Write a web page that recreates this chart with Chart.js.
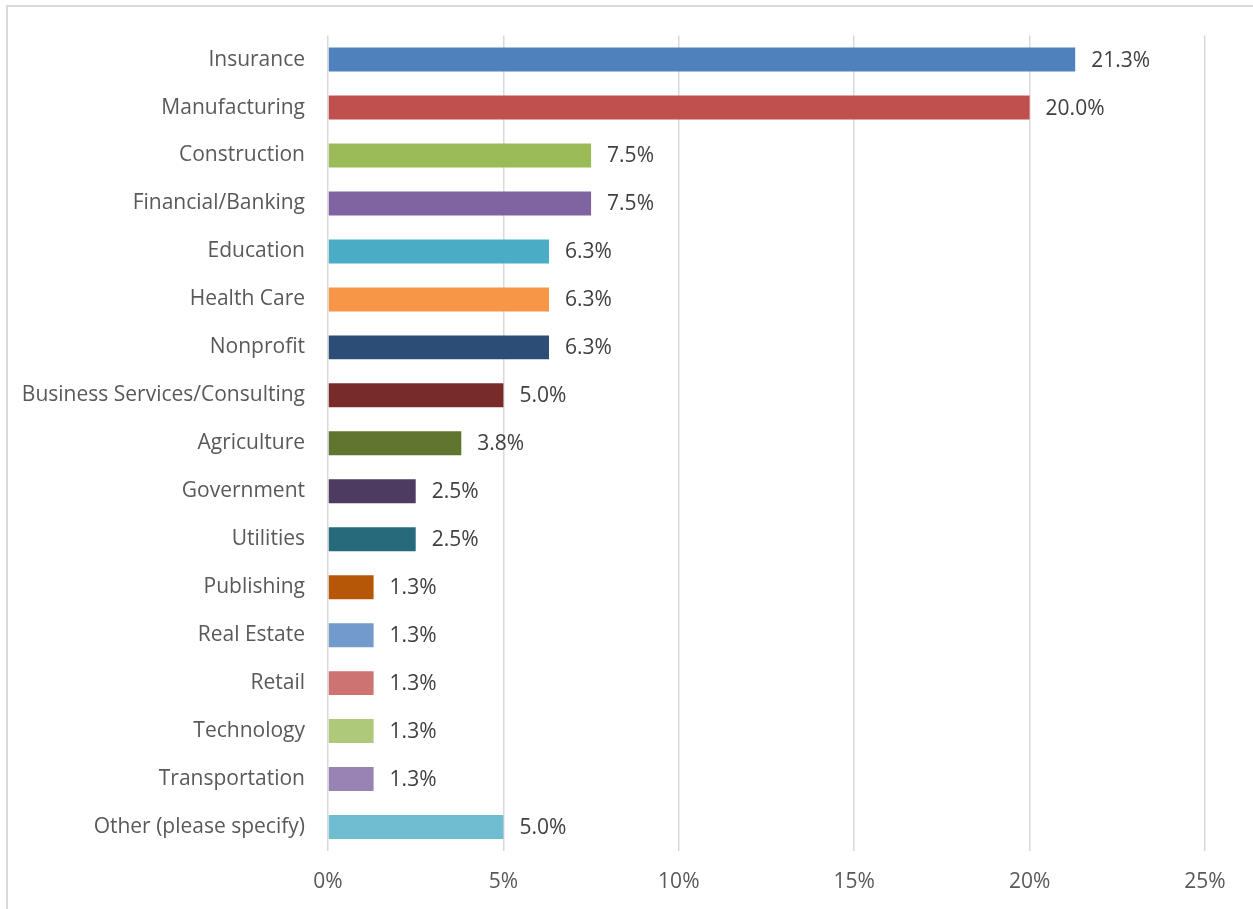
<!DOCTYPE html>
<html>
<head>
<meta charset="utf-8">
<script src="https://cdn.jsdelivr.net/npm/chart.js@4"></script>
<style>
  html, body { margin: 0; padding: 0; background: #fff; }
  #wrap { position: relative; width: 1253px; height: 909px; overflow: hidden; }
  #frame {
    position: absolute; left: 6px; top: 5px; width: 1400px; height: 1000px;
    border-left: 2px solid #d9d9d9; border-top: 2px solid #d9d9d9;
    pointer-events: none;
  }
</style>
</head>
<body>
<div id="wrap">
  <canvas id="industryChart" width="1253" height="909"></canvas>
  <div id="frame"></div>
</div>
<script>
// Branchefordeling (andel af respondenter, %)
const industries = [
  "Insurance", "Manufacturing", "Construction", "Financial/Banking", "Education",
  "Health Care", "Nonprofit", "Business Services/Consulting", "Agriculture",
  "Government", "Utilities", "Publishing", "Real Estate", "Retail",
  "Technology", "Transportation", "Other (please specify)"
];
const shares = [21.3, 20.0, 7.5, 7.5, 6.3, 6.3, 6.3, 5.0, 3.8, 2.5, 2.5, 1.3, 1.3, 1.3, 1.3, 1.3, 5.0];
const barColors = [
  "#4F81BD", "#C0504D", "#9BBB59", "#8064A2", "#4BACC6", "#F79646", "#2C4D75",
  "#772C2A", "#5F7530", "#4D3B62", "#276A7C", "#B65708", "#729ACA", "#CD7371",
  "#AFC97A", "#9983B5", "#6FBDD1"
];
const xTicks = [0, 5, 10, 15, 20, 25];

const FONT = "'Open Sans', sans-serif";

// Tekst ved enden af hver bjælke
const valueLabels = {
  id: "valueLabels",
  afterDatasetsDraw(chart) {
    const ctx = chart.ctx;
    const meta = chart.getDatasetMeta(0);
    ctx.save();
    ctx.font = "21px " + FONT;
    ctx.fillStyle = "#404040";
    ctx.textAlign = "left";
    ctx.textBaseline = "middle";
    meta.data.forEach((bar, i) => {
      ctx.fillText(shares[i].toFixed(1) + "%", bar.x + 16, bar.y + 1);
    });
    ctx.restore();
  }
};

new Chart(document.getElementById("industryChart").getContext("2d"), {
  type: "bar",
  data: {
    labels: industries,
    datasets: [{
      data: shares,
      backgroundColor: barColors,
      borderWidth: 0,
      categoryPercentage: 0.5,
      barPercentage: 1
    }]
  },
  options: {
    indexAxis: "y",
    responsive: false,
    animation: false,
    layout: { padding: { top: 35, right: 48, left: 0, bottom: 0 } },
    plugins: {
      legend: { display: false },
      tooltip: { enabled: false }
    },
    scales: {
      x: {
        min: 0,
        max: 25,
        afterFit(scale) { scale.height = 58; },
        afterBuildTicks(scale) { scale.ticks = xTicks.map(v => ({ value: v })); },
        grid: { color: "#d9d9d9", lineWidth: 1.5, drawTicks: false },
        border: { display: false },
        ticks: {
          padding: 18,
          color: "#595959",
          font: { family: FONT, size: 21 },
          callback: v => v + "%"
        }
      },
      y: {
        afterFit(scale) { scale.width = 328; },
        grid: { display: false, drawTicks: false },
        border: { display: false },
        ticks: {
          padding: 23,
          color: "#595959",
          font: { family: FONT, size: 21 },
          autoSkip: false
        }
      }
    }
  },
  plugins: [valueLabels]
});
</script>
</body>
</html>
